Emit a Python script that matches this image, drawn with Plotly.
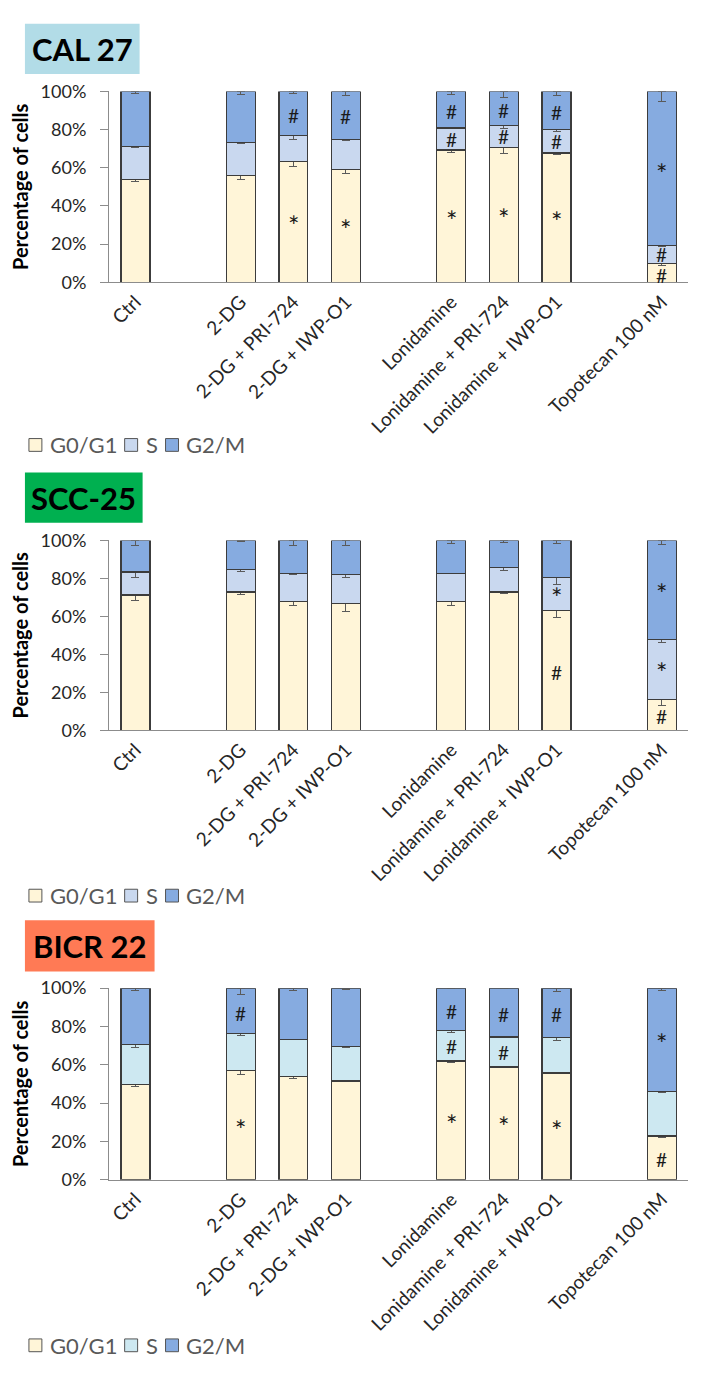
import plotly.graph_objects as go

W, H = 709, 1375

# ---------------- data ----------------
categories = ["Ctrl", "2-DG", "2-DG + PRI-724", "2-DG + IWP-O1",
              "Lonidamine", "Lonidamine + PRI-724", "Lonidamine + IWP-O1",
              "Topotecan 100 nM"]
cat_pos = [0, 2, 3, 4, 6, 7, 8, 10]
phases = ["G0/G1", "S", "G2/M"]
panel_titles = ["CAL 27", "SCC-25", "BICR 22"]
y_tick_vals = [0, 20, 40, 60, 80, 100]
y_tick_text = ["0%", "20%", "40%", "60%", "80%", "100%"]

# CAL 27
cal27_g0 = [54.0, 56.0, 63.1, 59.0, 69.3, 70.6, 67.7, 9.8]
cal27_s = [17.3, 17.4, 13.9, 15.9, 11.6, 11.4, 12.2, 9.5]
cal27_g2 = [28.7, 26.6, 23.0, 25.1, 19.1, 18.0, 20.1, 80.7]
cal27_g0_err = [1.4, 2.0, 2.3, 2.1, 1.4, 3.2, 0.9, 0.8]
cal27_s_err = [0.5, 0.5, 2.1, 0.7, 0.3, 1.4, 1.0, 0.5]
cal27_g2_err = [1.0, 1.7, 1.0, 2.0, 1.7, 3.1, 2.2, 5.2]

# SCC-25
scc25_g0 = [71.2, 72.9, 67.7, 66.8, 67.7, 72.9, 63.0, 16.2]
scc25_s = [12.2, 11.7, 14.7, 15.2, 15.0, 12.8, 17.5, 31.8]
scc25_g2 = [16.6, 15.4, 17.6, 18.0, 17.3, 14.3, 19.5, 52.0]
scc25_g0_err = [3.0, 1.4, 1.9, 4.1, 2.1, 1.0, 3.4, 3.2]
scc25_s_err = [2.7, 1.0, 0.5, 1.7, 0.3, 1.4, 3.8, 1.7]
scc25_g2_err = [2.6, 0.8, 2.6, 2.6, 1.7, 1.0, 1.7, 2.4]

# BICR 22
bicr22_g0 = [49.8, 57.0, 53.9, 51.6, 62.0, 58.9, 55.7, 22.8]
bicr22_s = [20.6, 19.2, 19.4, 18.1, 15.7, 15.6, 18.5, 23.1]
bicr22_g2 = [29.6, 23.8, 26.7, 30.3, 22.3, 25.5, 25.8, 54.1]
bicr22_g0_err = [1.0, 1.9, 1.3, 0.3, 0.8, 0.3, 0.2, 1.0]
bicr22_s_err = [1.5, 0.7, 0.2, 0.8, 0.7, 0.2, 1.4, 0.3]
bicr22_g2_err = [1.5, 3.2, 1.5, 0.5, 0.3, 0.3, 1.9, 1.5]

# significance marks: (category index, y %, symbol)
cal27_marks = [(2, 33.4, "*"), (2, 87.5, "#"), (3, 31.1, "*"), (3, 86.6, "#"),
               (4, 36.3, "*"), (4, 75.0, "#"), (4, 89.7, "#"),
               (5, 37.1, "*"), (5, 76.3, "#"), (5, 90.0, "#"),
               (6, 35.6, "*"), (6, 73.9, "#"), (6, 89.2, "#"),
               (7, 3.8, "#"), (7, 14.8, "#"), (7, 60.8, "*")]
scc25_marks = [(6, 30.7, "#"), (6, 73.4, "*"),
               (7, 7.3, "#"), (7, 34.0, "*"), (7, 75.6, "*")]
bicr22_marks = [(1, 30.0, "*"), (1, 87.0, "#"),
                (4, 32.6, "*"), (4, 69.3, "#"), (4, 87.7, "#"),
                (5, 31.3, "*"), (5, 66.3, "#"), (5, 86.0, "#"),
                (6, 29.1, "*"), (6, 86.0, "#"),
                (7, 10.6, "#"), (7, 74.5, "*")]

panels = [
    dict(g0=cal27_g0, s=cal27_s, g2=cal27_g2, e0=cal27_g0_err, es=cal27_s_err, e2=cal27_g2_err,
         marks=cal27_marks),
    dict(g0=scc25_g0, s=scc25_s, g2=scc25_g2, e0=scc25_g0_err, es=scc25_s_err, e2=scc25_g2_err,
         marks=scc25_marks),
    dict(g0=bicr22_g0, s=bicr22_s, g2=bicr22_g2, e0=bicr22_g0_err, es=bicr22_s_err, e2=bicr22_g2_err,
         marks=bicr22_marks),
]

# ---------------- styling / layout ----------------
FONT = "Lato, Carlito, Calibri, sans-serif"
c_g0 = "#fff5d8"
c_s = ["#c9d8ef", "#c9d8ef", "#cde8f1"]
c_g2 = "#86abe0"
box_colors = ["#b2dce7", "#00b050", "#ff7a55"]
outline = "#3c3c3c"
err_col = "#5a5a5a"
axis_col = "#8c8c8c"

# pixel geometry
plot_tops = [80.7, 537.0, 992.0]
plot_bots = [274.7, 730.0, 1186.7]
boxes = [(23, 12, 138, 63), (23, 468, 141, 519), (23, 923, 153, 975)]
legend_y = [440, 898, 1355]
legend_sq_x = [27, 123, 164]
legend_txt_x = [46, 142, 183]
x_left, x_right = 107.4, 688.1


def px(x):
    return x / W


def py(y):
    return 1 - y / H


fig = go.Figure()
layout = dict(
    width=W, height=H,
    margin=dict(l=0, r=0, t=0, b=0),
    paper_bgcolor="white", plot_bgcolor="white",
    barmode="stack", showlegend=False,
    font=dict(family=FONT, color="#262626"),
    shapes=[], annotations=[],
)

for i, p in enumerate(panels):
    n = "" if i == 0 else str(i + 1)
    xa, ya = "x" + n, "y" + n
    seg_cols = [c_g0, c_s[i], c_g2]
    segs = [(phases[0], p["g0"], p["e0"]),
            (phases[1], p["s"], p["es"]),
            (phases[2], p["g2"], p["e2"])]
    for (name, vals, errs), col in zip(segs, seg_cols):
        fig.add_trace(go.Bar(
            x=cat_pos, y=vals, name=name, width=0.55,
            marker=dict(color=col, line=dict(color=outline, width=1.3)),
            error_y=dict(type="data", symmetric=False, array=[0] * len(errs),
                         arrayminus=errs, color=err_col, thickness=1, width=4),
            xaxis=xa, yaxis=ya,
        ))
    layout["xaxis" + n] = dict(
        domain=[px(x_left), px(x_right)], anchor=ya, range=[-0.5, 10.5],
        tickmode="array", tickvals=cat_pos, ticktext=categories, tickangle=-45,
        showline=True, linecolor=axis_col, linewidth=1.3, ticks="",
        showgrid=False, zeroline=False,
        tickfont=dict(family=FONT, size=19, color="#262626"),
    )
    layout["yaxis" + n] = dict(
        domain=[py(plot_bots[i]), py(plot_tops[i])], anchor=xa, range=[0, 100],
        tickmode="array", tickvals=y_tick_vals, ticktext=y_tick_text,
        showline=True, linecolor=axis_col, linewidth=1.3,
        ticks="outside", ticklen=8, tickcolor=axis_col, tickwidth=1.3,
        ticklabelstandoff=10,
        showgrid=False, zeroline=False,
        tickfont=dict(family=FONT, size=18, color="#262626"),
        title=dict(text="<b>Percentage of cells</b>", standoff=6,
                   font=dict(family=FONT, size=20, color="#000000")),
    )
    # legend (drawn as swatches + labels)
    for k in range(3):
        ly = legend_y[i]
        layout["shapes"].append(dict(type="rect", xref="paper", yref="paper",
                                     x0=px(legend_sq_x[k]), x1=px(legend_sq_x[k] + 13),
                                     y0=py(ly + 6.5), y1=py(ly - 6.5),
                                     fillcolor=seg_cols[k], line=dict(color="#555555", width=1)))
        layout["annotations"].append(dict(xref="paper", yref="paper",
                                          x=px(legend_txt_x[k]), y=py(ly),
                                          text=phases[k], showarrow=False,
                                          xanchor="left", yanchor="middle",
                                          font=dict(family=FONT, size=22, color="#595959")))
    # title box
    x0, y0, x1, y1 = boxes[i]
    layout["shapes"].append(dict(type="rect", xref="paper", yref="paper",
                                 x0=px(x0), x1=px(x1), y0=py(y1), y1=py(y0),
                                 fillcolor=box_colors[i], line=dict(width=0), layer="below"))
    layout["annotations"].append(dict(xref="paper", yref="paper",
                                      x=px((x0 + x1) / 2), y=py((y0 + y1) / 2),
                                      text="<b>" + panel_titles[i] + "</b>", showarrow=False,
                                      xanchor="center", yanchor="middle",
                                      font=dict(family=FONT, size=31, color="#000000")))
    for ci, yv, sym in p["marks"]:
        big = sym == "*"
        layout["annotations"].append(dict(xref=xa, yref=ya, x=cat_pos[ci], y=yv,
                                          text=sym, showarrow=False,
                                          xanchor="center", yanchor="middle",
                                          yshift=-7 if big else 0,
                                          font=dict(family=FONT, size=27 if big else 19,
                                                    color="#1a1a1a")))

fig.update_layout(**layout)
fig.write_html("out.html", config={"displayModeBar": False},
               post_script="document.body.style.margin='0';document.body.style.padding='0';")
